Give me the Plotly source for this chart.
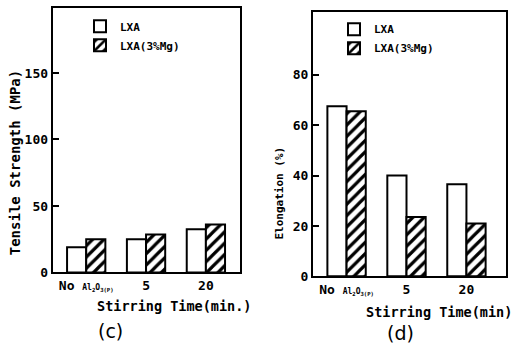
import plotly.graph_objects as go

categories = ["No Al2O3(p)", "5", "20"]
tick_labels = ["No <span style='font-size:8px'>Al<sub>2</sub>O<sub>3(P)</sub></span>", "5", "20"]
series_names = ["LXA", "LXA(3%Mg)"]

tensile_lxa = [19, 25, 32.5]
tensile_mg = [25, 28.5, 36]
elong_lxa = [67.5, 40, 36.5]
elong_mg = [65.5, 23.5, 21]

FONT = "DejaVu Sans Mono"
BLACK = "#000000"

fig = go.Figure()

def add_pair(vals_a, vals_b, xa, ya, legend):
    fig.add_trace(go.Bar(
        x=categories, y=vals_a, name=series_names[0], xaxis=xa, yaxis=ya,
        legend=legend,
        marker=dict(color="white", line=dict(color=BLACK, width=2)),
    ))
    fig.add_trace(go.Bar(
        x=categories, y=vals_b, name=series_names[1], xaxis=xa, yaxis=ya,
        legend=legend,
        marker=dict(color="white", line=dict(color=BLACK, width=2),
                    pattern=dict(shape="/", fgcolor=BLACK, bgcolor="white",
                                 fgopacity=1, size=8, solidity=0.4)),
    ))

add_pair(tensile_lxa, tensile_mg, "x", "y", "legend")
add_pair(elong_lxa, elong_mg, "x2", "y2", "legend2")

W, H = 518, 356

def px_x(p):
    return p / W

def px_y(p):
    return 1 - p / H

def bfont(size):
    return dict(family=FONT, size=size, color=BLACK, weight="bold")

axis_common = dict(showline=True, linecolor=BLACK, linewidth=2, mirror=True,
                   showgrid=False, zeroline=False)
yaxis_common = dict(axis_common, ticks="inside", ticklen=6, tickwidth=2,
                    tickcolor=BLACK, tickfont=bfont(13))
xaxis_common = dict(axis_common, ticks="", tickvals=categories, ticktext=tick_labels,
                    tickfont=bfont(13))

fig.update_layout(
    width=W, height=H,
    margin=dict(l=0, r=0, t=0, b=0),
    paper_bgcolor="white", plot_bgcolor="white",
    barmode="group", bargap=0.36, bargroupgap=0,
    xaxis=dict(xaxis_common, domain=[px_x(52.7), px_x(240)], range=[-0.56, 2.57], anchor="y"),
    yaxis=dict(yaxis_common, domain=[px_y(278.7), px_y(8)], range=[0, 199],
               tickvals=[0, 50, 100, 150], anchor="x"),
    xaxis2=dict(xaxis_common, domain=[px_x(313), px_x(506)], range=[-0.56, 2.66], anchor="y2"),
    yaxis2=dict(yaxis_common, domain=[px_y(282.7), px_y(12)], range=[0, 105],
                tickvals=[0, 20, 40, 60, 80], anchor="x2"),
    legend=dict(x=px_x(80), y=px_y(12), xanchor="left", yanchor="top",
                bgcolor="rgba(0,0,0,0)", font=bfont(11), tracegroupgap=4),
    legend2=dict(x=px_x(334), y=px_y(15), xanchor="left", yanchor="top",
                 bgcolor="rgba(0,0,0,0)", font=bfont(11), tracegroupgap=4),
    showlegend=True,
)

annotations = [
    dict(text="Tensile Strength (MPa)", x=px_x(15), y=px_y(167), textangle=-90, font=bfont(14)),
    dict(text="Elongation (%)", x=px_x(280), y=px_y(198), textangle=-90, font=bfont(11)),
    dict(text="Stirring Time(min.)", x=px_x(173.5), y=px_y(313), font=bfont(13.5)),
    dict(text="Stirring Time(min)", x=px_x(438.5), y=px_y(319), font=bfont(13.5)),
    dict(text="(c)", x=px_x(110), y=px_y(339), font=dict(family="DejaVu Sans", size=19, color=BLACK)),
    dict(text="(d)", x=px_x(400), y=px_y(341), font=dict(family="DejaVu Sans", size=19, color=BLACK)),
]
for a in annotations:
    a.update(xref="paper", yref="paper", showarrow=False, xanchor="center", yanchor="middle")
fig.update_layout(annotations=annotations)

fig.write_html("out.html", config={"displayModeBar": False},
               post_script="document.body.style.margin='0';document.body.style.padding='0';")
